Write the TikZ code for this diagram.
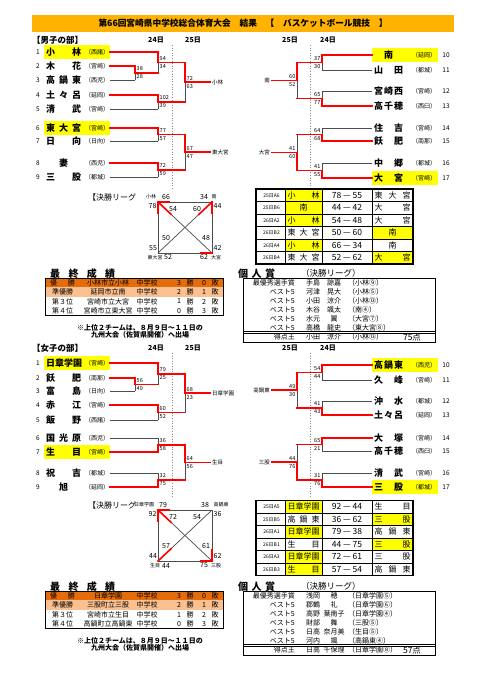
\documentclass[tikz,border=0pt]{standalone}
\usepackage{fontspec}
\setmainfont{Noto Sans CJK JP}
\usetikzlibrary{calc}
\definecolor{aka}{HTML}{FF0000}
\definecolor{kiiro}{HTML}{FFFF00}
\definecolor{obi}{HTML}{FFB300}
\definecolor{yusho}{HTML}{E46C0A}
\definecolor{junyu}{HTML}{FAC090}
\newcommand{\haba}[2]{\makebox[#1][s]{#2}}
% team rows of the brackets
\newcommand{\teamL}[5]{%
  \node[num] (n#1) at (38,#2) {#3};
  \node[tname, anchor=west] (t#1) at (46,#2) {\haba{35pt}{#4}};
  \node[area] (r#1) at (97,#2) {（#5）};
  \coordinate (s#1) at (110,#2);}
\newcommand{\teamR}[5]{%
  \coordinate (s#1) at (372,#2);
  \node[tname, anchor=west] (t#1) at (374,#2) {\haba{29pt}{#4}};
  \node[area] (r#1) at (424,#2) {（#5）};
  \node[num] (n#1) at (446,#2) {#3};}
\newcommand{\hl}[2]{\fill[kiiro] (#1,{#2-7}) rectangle ++(66,14);}
% one game: top in, bottom in, x, name, top style, bottom style, winner (t/b), scores
\newcommand{\duel}[9]{%
  \coordinate (#4m) at ($(#1)!0.5!(#2)$);
  \coordinate (#4) at (#3,0 |- #4m);
  \coordinate (#4u) at (#3,0 |- #1);
  \coordinate (#4d) at (#3,0 |- #2);
  \draw[#5] (#1) -- (#4u);
  \draw[#6] (#2) -- (#4d);
  \if#7t\draw[lose] (#4) -- (#4d);\draw[win] (#4u) -- (#4);%
  \else\draw[lose] (#4) -- (#4u);\draw[win] (#4d) -- (#4);\fi
  \node[score, anchor=\scanchor] (#4a) at ([xshift=\scdx pt, yshift=4pt]#4) {#8};
  \node[score, anchor=\scanchor] (#4b) at ([xshift=\scdx pt, yshift=-4pt]#4) {#9};}
% league table
\newcommand{\gamerow}[7]{%
  \if#7l\fill[kiiro] (285,{#2-6.25}) rectangle (322,{#2+6.25});%
  \else\fill[kiiro] (372,{#2-6.25}) rectangle (413,{#2+6.25});\fi
  \node[code] (#1c) at (271.5,#2) {#3};
  \node[cell] (#1a) at (303.5,#2) {#4};
  \node[pts] (#1s) at (347,#2) {#5};
  \node[cell] (#1b) at (392.5,#2) {#6};}
\newcommand{\gamegrid}[1]{%
  \foreach \k in {1,...,5} \draw[line width=0.4pt] (256,{#1+12.5*\k}) -- (413,{#1+12.5*\k});
  \foreach \xx in {285,322,372} \draw[line width=0.4pt] (\xx,#1) -- (\xx,{#1+75});
  \draw[line width=1.2pt] (256,#1) rectangle (413,{#1+75});}
\newcommand{\rankrow}[6]{%
  \node[rk] (#1r) at (62.5,#2) {#3};
  \node[rk] (#1s) at (108,#2) {#4};
  \node[rk] (#1c) at (147,#2) {中学校};
  \node[rk] (#1w) at (179,#2) {#5};
  \node[rk] (#1x) at (190,#2) {勝};
  \node[rk] (#1l) at (204,#2) {#6};
  \node[rk] (#1y) at (215,#2) {敗};}
\newcommand{\awardrow}[6]{%
  \node[rk, anchor=east] (#1t) at (295,#2) {#3};
  \node[rk] (#1f) at (313,#2) {#4};
  \node[rk] (#1g) at (334,#2) {#5};
  \node[rk, anchor=west] (#1h) at (348,#2) {（#6）};}

\begin{document}
\begin{tikzpicture}[x=1pt, y=-1pt,
    win/.style={draw=aka, line width=1.6pt, line cap=rect},
    lose/.style={draw=black!70, line width=0.7pt},
    dotline/.style={draw=black!45, dotted, line width=0.6pt},
    num/.style={font=\fontsize{6.5}{7}\selectfont, inner sep=0pt},
    tname/.style={font=\fontsize{9}{10}\selectfont\bfseries, inner sep=0pt},
    area/.style={font=\fontsize{6}{6}\selectfont, inner sep=0pt},
    score/.style={font=\fontsize{5.5}{6}\selectfont, inner sep=0pt},
    champ/.style={font=\fontsize{5.5}{6}\selectfont, inner sep=0pt},
    head/.style={font=\fontsize{8.5}{9}\selectfont\bfseries, inner sep=0pt},
    day/.style={font=\fontsize{7}{7}\selectfont\bfseries, inner sep=0pt},
    rrhead/.style={font=\fontsize{8}{8}\selectfont, inner sep=0pt},
    rrname/.style={font=\fontsize{5}{5}\selectfont, inner sep=0pt},
    rrsc/.style={font=\fontsize{7}{7}\selectfont, inner sep=0pt},
    code/.style={font=\fontsize{5}{5}\selectfont, inner sep=0pt},
    cell/.style={font=\fontsize{8}{8}\selectfont, inner sep=0pt},
    pts/.style={font=\fontsize{8.5}{9}\selectfont, inner sep=0pt},
    rk/.style={font=\fontsize{7}{7}\selectfont, inner sep=0pt},
    note/.style={font=\fontsize{7}{7}\selectfont\bfseries, inner sep=0pt},
    big/.style={font=\fontsize{10}{10}\selectfont\bfseries, inner sep=0pt}
  ]
  \fill[white] (0,0) rectangle (481,680);
  \useasboundingbox (0,0) rectangle (481,680);

  % title
  \fill[obi] (32,15) rectangle (454,32);
  \node[font=\fontsize{8.7}{9}\selectfont\bfseries, inner sep=0pt] (ttl) at (243,23.5)
    {第66回宮崎県中学校総合体育大会　結果　【　バスケットボール競技　】};

  %%%%%%%%%%%%%%%% boys
  \node[head, anchor=west] (hb) at (32,40) {【男子の部】};
  \node[day] (db1) at (156,40) {24日};
  \node[day] (db2) at (193,40) {25日};
  \node[day] (db3) at (290,40) {25日};
  \node[day] (db4) at (328,40) {24日};
  \draw[dotline] (172,45) -- (172,190);
  \draw[dotline] (310,45) -- (310,190);

  \hl{44}{52} \hl{44}{128} \hl{372}{55} \hl{372}{178}
  \teamL{b1}{52}{1}{小\hfill 林}{西諸}
  \teamL{b2}{66}{2}{木\hfill 花}{宮崎}
  \teamL{b3}{80}{3}{高\hfill 鍋\hfill 東}{西児}
  \teamL{b4}{95}{4}{土\hfill 々\hfill 呂}{延岡}
  \teamL{b5}{109}{5}{清\hfill 武}{宮崎}
  \teamL{b6}{128}{6}{東\hfill 大\hfill 宮}{宮崎}
  \teamL{b7}{141}{7}{日\hfill 向}{日向}
  \teamL{b8}{163}{8}{\hfill 妻\hfill}{西児}
  \teamL{b9}{177}{9}{三\hfill 股}{都城}
  \teamR{b10}{55}{10}{\hfill 南\hfill}{延岡}
  \teamR{b11}{70}{11}{山\hfill 田}{都城}
  \teamR{b12}{91}{12}{宮\hfill 崎\hfill 西}{宮崎}
  \teamR{b13}{106}{13}{高\hfill 千\hfill 穂}{西臼}
  \teamR{b14}{128}{14}{住\hfill 吉}{宮崎}
  \teamR{b15}{141}{15}{飫\hfill 肥}{南那}
  \teamR{b16}{163}{16}{中\hfill 郷}{都城}
  \teamR{b17}{178}{17}{大\hfill 宮}{宮崎}

  \def\scanchor{west}\def\scdx{1.5}
  \duel{sb2}{sb3}{135}{bA}{win}{lose}{t}{38}{28}
  \duel{sb1}{bA}{158}{bB}{win}{win}{t}{94}{34}
  \duel{sb4}{sb5}{158}{bC}{win}{lose}{t}{102}{39}
  \duel{bB}{bC}{185}{bD}{win}{win}{t}{72}{63}
  \duel{sb6}{sb7}{158}{bE}{win}{lose}{t}{77}{57}
  \duel{sb8}{sb9}{158}{bF}{win}{lose}{t}{72}{59}
  \duel{bE}{bF}{185}{bG}{win}{win}{t}{67}{47}
  \draw[win] (bD) -- (210,0 |- bD) coordinate (bDo);
  \node[champ, anchor=west] (wb1) at ([xshift=2pt]bDo) {小林};
  \draw[win] (bG) -- (210,0 |- bG) coordinate (bGo);
  \node[champ, anchor=west] (wb2) at ([xshift=2pt]bGo) {東大宮};

  \def\scanchor{east}\def\scdx{-1.5}
  \duel{sb10}{sb11}{322}{bH}{win}{lose}{t}{37}{30}
  \duel{sb12}{sb13}{322}{bI}{lose}{win}{b}{65}{77}
  \duel{bH}{bI}{297}{bJ}{win}{win}{t}{60}{52}
  \duel{sb14}{sb15}{322}{bK}{lose}{win}{b}{64}{68}
  \duel{sb16}{sb17}{322}{bL}{lose}{win}{b}{41}{55}
  \duel{bK}{bL}{297}{bM}{win}{win}{b}{41}{60}
  \draw[win] (bJ) -- (272,0 |- bJ) coordinate (bJo);
  \node[champ, anchor=east] (wb3) at ([xshift=-2pt]bJo) {南};
  \draw[win] (bM) -- (272,0 |- bM) coordinate (bMo);
  \node[champ, anchor=east] (wb4) at ([xshift=-2pt]bMo) {大宮};

  % boys league
  \node[rrhead, anchor=west] (lgb) at (88,197) {【決勝リーグ};
  \coordinate (bq1) at (158,202); \coordinate (bq2) at (212,202);
  \coordinate (bq3) at (158,253); \coordinate (bq4) at (212,253);
  \draw[lose] (bq1) -- (bq2) -- (bq4) -- (bq3) -- cycle;
  \draw[lose] (bq1) -- (bq4);
  \draw[lose] (bq2) -- (bq3);
  \draw[win] (bq1) -- ($(bq1)!11pt!(bq3)$);
  \draw[win] (bq1) -- ($(bq1)!11pt!(bq2)$);
  \draw[win] (bq1) -- ($(bq1)!18pt!(bq4)$);
  \draw[win] (bq2) -- ($(bq2)!11pt!(bq4)$);
  \draw[win] (bq2) -- ($(bq2)!18pt!(bq3)$);
  \draw[win] (bq4) -- ($(bq4)!11pt!(bq3)$);
  \node[rrname] (bqn1) at (151,197) {小林};
  \node[rrname] (bqn2) at (214,197) {南};
  \node[rrname] (bqn3) at (155,257.5) {東大宮};
  \node[rrname] (bqn4) at (216,257.5) {大宮};
  \node[rrsc] (bqa) at (166,197) {66};
  \node[rrsc] (bqb) at (204,197) {34};
  \node[rrsc] (bqc) at (152.5,206) {78};
  \node[rrsc] (bqd) at (217.5,206) {44};
  \node[rrsc] (bqe) at (173,209) {54};
  \node[rrsc] (bqf) at (197,209) {60};
  \node[rrsc] (bqg) at (166,238) {50};
  \node[rrsc] (bqh) at (206,238) {48};
  \node[rrsc] (bqi) at (153,248) {55};
  \node[rrsc] (bqj) at (217.5,248) {42};
  \node[rrsc] (bqk) at (168,257.5) {52};
  \node[rrsc] (bql) at (204,257.5) {62};

  % boys table
  \gamerow{gb1}{195.25}{25日A6}{\haba{32pt}{小\hfill 林}}{78 — 55}{\haba{36pt}{東\hfill 大\hfill 宮}}{l}
  \gamerow{gb2}{207.75}{25日B6}{南}{44 — 42}{\haba{36pt}{大\hfill 宮}}{l}
  \gamerow{gb3}{220.25}{26日A2}{\haba{32pt}{小\hfill 林}}{54 — 48}{\haba{36pt}{大\hfill 宮}}{l}
  \gamerow{gb4}{232.75}{26日B2}{\haba{32pt}{東\hfill 大\hfill 宮}}{50 — 60}{南}{r}
  \gamerow{gb5}{245.25}{26日A4}{\haba{32pt}{小\hfill 林}}{66 — 34}{南}{l}
  \gamerow{gb6}{257.75}{26日B4}{\haba{32pt}{東\hfill 大\hfill 宮}}{52 — 62}{\haba{36pt}{大\hfill 宮}}{r}
  \gamegrid{189}

  % boys standings
  \node[big, anchor=west] (fb) at (50,274) {\haba{65pt}{最\hfill 終\hfill 成\hfill 績}};
  \fill[yusho] (45,278) rectangle (223,287.4);
  \fill[junyu] (45,287.4) rectangle (223,296.8);
  \rankrow{rb1}{282.7}{\haba{25pt}{優\hfill 勝}}{小林市立小林}{3}{0}
  \rankrow{rb2}{292.1}{準優勝}{延岡市立南}{2}{1}
  \rankrow{rb3}{301.5}{第３位}{宮崎市立大宮}{1}{2}
  \rankrow{rb4}{310.9}{第４位}{宮崎市立東大宮}{0}{3}
  \draw[line width=1pt] (45,278) rectangle (223,315.6);
  \node[note] (nb1) at (140,327.5) {※上位２チームは、８月９日～１１日の};
  \node[note] (nb2) at (140,334.5) {九州大会（佐賀県開催）へ出場};

  % boys awards
  \node[big, anchor=west] (kb) at (238,274) {\haba{37pt}{個\hfill 人\hfill 賞}};
  \node[font=\fontsize{8.5}{9}\selectfont, inner sep=0pt, anchor=west] (kb2) at (301,273) {（決勝リーグ）};
  \awardrow{ab1}{283}{最優秀選手賞}{手島}{諒嘉}{小林⑨}
  \awardrow{ab2}{292}{ベスト5}{河津}{晃大}{小林⑤}
  \awardrow{ab3}{301}{ベスト5}{小田}{涼介}{小林⑬}
  \awardrow{ab4}{310}{ベスト5}{木谷}{颯太}{南④}
  \awardrow{ab5}{319}{ベスト5}{水元}{翼}{大宮⑦}
  \awardrow{ab6}{328}{ベスト5}{高橋}{龍史}{東大宮⑧}
  \awardrow{ab7}{337}{得点王}{小田}{涼介}{小林⑬}
  \node[pts] (ab7p) at (412,337) {75点};
  \draw[line width=0.9pt] (243,278) rectangle (435,342);
  \draw[line width=0.5pt] (243,331.5) -- (435,331.5) (243,333.5) -- (435,333.5);

  %%%%%%%%%%%%%%%% girls
  \node[head, anchor=west] (hg) at (32,348) {【女子の部】};
  \node[day] (dg1) at (156,348) {24日};
  \node[day] (dg2) at (193,348) {25日};
  \node[day] (dg3) at (290,348) {25日};
  \node[day] (dg4) at (328,348) {24日};
  \draw[dotline] (172,353) -- (172,498);
  \draw[dotline] (310,353) -- (310,498);

  \hl{44}{363} \hl{44}{452} \hl{372}{365} \hl{372}{487}
  \teamL{g1}{363}{1}{日\hfill 章\hfill 学\hfill 園}{宮崎}
  \teamL{g2}{378}{2}{飫\hfill 肥}{南那}
  \teamL{g3}{391}{3}{富\hfill 島}{日向}
  \teamL{g4}{405}{4}{赤\hfill 江}{宮崎}
  \teamL{g5}{420}{5}{飯\hfill 野}{西諸}
  \teamL{g6}{438}{6}{国\hfill 光\hfill 原}{西児}
  \teamL{g7}{452}{7}{生\hfill 目}{宮崎}
  \teamL{g8}{473}{8}{祝\hfill 吉}{都城}
  \teamL{g9}{487}{9}{\hfill 旭\hfill}{延岡}
  \teamR{g10}{365}{10}{高\hfill 鍋\hfill 東}{西児}
  \teamR{g11}{380}{11}{久\hfill 峰}{宮崎}
  \teamR{g12}{401}{12}{沖\hfill 水}{都城}
  \teamR{g13}{415}{13}{土\hfill 々\hfill 呂}{延岡}
  \teamR{g14}{438}{14}{大\hfill 塚}{宮崎}
  \teamR{g15}{451}{15}{高\hfill 千\hfill 穂}{西臼}
  \teamR{g16}{473}{16}{清\hfill 武}{宮崎}
  \teamR{g17}{487}{17}{三\hfill 股}{都城}

  \def\scanchor{west}\def\scdx{1.5}
  \duel{sg2}{sg3}{135}{gA}{win}{lose}{t}{56}{49}
  \duel{sg1}{gA}{158}{gB}{win}{win}{t}{79}{25}
  \duel{sg4}{sg5}{158}{gC}{win}{lose}{t}{60}{52}
  \duel{gB}{gC}{185}{gD}{win}{win}{t}{68}{23}
  \duel{sg6}{sg7}{158}{gE}{lose}{win}{b}{36}{58}
  \duel{sg8}{sg9}{158}{gF}{lose}{win}{b}{32}{75}
  \duel{gE}{gF}{185}{gG}{win}{win}{t}{64}{56}
  \draw[win] (gD) -- (210,0 |- gD) coordinate (gDo);
  \node[champ, anchor=west] (wg1) at ([xshift=2pt]gDo) {日章学園};
  \draw[win] (gG) -- (210,0 |- gG) coordinate (gGo);
  \node[champ, anchor=west] (wg2) at ([xshift=2pt]gGo) {生目};

  \def\scanchor{east}\def\scdx{-1.5}
  \duel{sg10}{sg11}{322}{gH}{win}{lose}{t}{54}{44}
  \duel{sg12}{sg13}{322}{gI}{lose}{win}{b}{41}{43}
  \duel{gH}{gI}{297}{gJ}{win}{win}{t}{49}{30}
  \duel{sg14}{sg15}{322}{gK}{win}{lose}{t}{65}{21}
  \duel{sg16}{sg17}{322}{gL}{lose}{win}{b}{31}{76}
  \duel{gK}{gL}{297}{gM}{win}{win}{b}{44}{76}
  \draw[win] (gJ) -- (272,0 |- gJ) coordinate (gJo);
  \node[champ, anchor=east] (wg3) at ([xshift=-2pt]gJo) {高鍋東};
  \draw[win] (gM) -- (272,0 |- gM) coordinate (gMo);
  \node[champ, anchor=east] (wg4) at ([xshift=-2pt]gMo) {三股};

  % girls league
  \node[rrhead, anchor=west] (lgg) at (88,505) {【決勝リーグ};
  \coordinate (gq1) at (158,510); \coordinate (gq2) at (212,510);
  \coordinate (gq3) at (158,561); \coordinate (gq4) at (212,561);
  \draw[lose] (gq1) -- (gq2) -- (gq4) -- (gq3) -- cycle;
  \draw[lose] (gq1) -- (gq4);
  \draw[lose] (gq2) -- (gq3);
  \draw[win] (gq1) -- ($(gq1)!11pt!(gq3)$);
  \draw[win] (gq1) -- ($(gq1)!11pt!(gq2)$);
  \draw[win] (gq1) -- ($(gq1)!18pt!(gq4)$);
  \draw[win] (gq3) -- ($(gq3)!18pt!(gq2)$);
  \draw[win] (gq4) -- ($(gq4)!11pt!(gq2)$);
  \draw[win] (gq4) -- ($(gq4)!11pt!(gq3)$);
  \node[rrname] (gqn1) at (144,505) {日章学園};
  \node[rrname] (gqn2) at (221,505) {高鍋東};
  \node[rrname] (gqn3) at (155,565.5) {生目};
  \node[rrname] (gqn4) at (216,565.5) {三股};
  \node[rrsc] (gqa) at (163,505) {79};
  \node[rrsc] (gqb) at (205,505) {38};
  \node[rrsc] (gqc) at (152.5,514) {92};
  \node[rrsc] (gqd) at (217.5,514) {36};
  \node[rrsc] (gqe) at (173,517) {72};
  \node[rrsc] (gqf) at (197,517) {54};
  \node[rrsc] (gqg) at (166,546) {57};
  \node[rrsc] (gqh) at (206,546) {61};
  \node[rrsc] (gqi) at (153,556) {44};
  \node[rrsc] (gqj) at (217.5,556) {62};
  \node[rrsc] (gqk) at (166,565.5) {44};
  \node[rrsc] (gql) at (204,565.5) {75};

  % girls table
  \gamerow{gg1}{506.75}{25日A5}{\haba{32pt}{日\hfill 章\hfill 学\hfill 園}}{92 — 44}{\haba{36pt}{生\hfill 目}}{l}
  \gamerow{gg2}{519.25}{25日B5}{\haba{32pt}{高\hfill 鍋\hfill 東}}{36 — 62}{\haba{36pt}{三\hfill 股}}{r}
  \gamerow{gg3}{531.75}{26日A1}{\haba{32pt}{日\hfill 章\hfill 学\hfill 園}}{79 — 38}{\haba{36pt}{高\hfill 鍋\hfill 東}}{l}
  \gamerow{gg4}{544.25}{26日B1}{\haba{32pt}{生\hfill 目}}{44 — 75}{\haba{36pt}{三\hfill 股}}{r}
  \gamerow{gg5}{556.75}{26日A3}{\haba{32pt}{日\hfill 章\hfill 学\hfill 園}}{72 — 61}{\haba{36pt}{三\hfill 股}}{l}
  \gamerow{gg6}{569.25}{26日B3}{\haba{32pt}{生\hfill 目}}{57 — 54}{\haba{36pt}{高\hfill 鍋\hfill 東}}{l}
  \gamegrid{500.5}

  % girls standings
  \node[big, anchor=west] (fg) at (50,587) {\haba{65pt}{最\hfill 終\hfill 成\hfill 績}};
  \fill[yusho] (45,591) rectangle (223,600.4);
  \fill[junyu] (45,600.4) rectangle (223,609.8);
  \rankrow{rg1}{595.7}{\haba{25pt}{優\hfill 勝}}{日章学園}{3}{0}
  \rankrow{rg2}{605.1}{準優勝}{三股町立三股}{2}{1}
  \rankrow{rg3}{614.5}{第３位}{宮崎市立生目}{1}{2}
  \rankrow{rg4}{623.9}{第４位}{高鍋町立高鍋東}{0}{3}
  \draw[line width=1pt] (45,591) rectangle (223,628.6);
  \node[note] (ng1) at (140,640.5) {※上位２チームは、８月９日～１１日の};
  \node[note] (ng2) at (140,647.5) {九州大会（佐賀県開催）へ出場};

  % girls awards
  \node[big, anchor=west] (kg) at (238,587) {\haba{37pt}{個\hfill 人\hfill 賞}};
  \node[font=\fontsize{8.5}{9}\selectfont, inner sep=0pt, anchor=west] (kg2) at (301,586) {（決勝リーグ）};
  \awardrow{ag1}{596}{最優秀選手賞}{浅岡}{穂}{日章学園⑤}
  \awardrow{ag2}{605}{ベスト5}{郡鶴}{礼}{日章学園⑥}
  \awardrow{ag3}{614}{ベスト5}{高野}{葉南子}{日章学園④}
  \awardrow{ag4}{623}{ベスト5}{財部}{舞}{三股⑤}
  \awardrow{ag5}{632}{ベスト5}{日高}{奈月美}{生目⑤}
  \awardrow{ag6}{641}{ベスト5}{河内}{颯}{高鍋東④}
  \awardrow{ag7}{650}{得点王}{日高}{千保理}{日章学園⑧}
  \node[pts] (ag7p) at (412,650) {57点};
  \draw[line width=0.9pt] (243,591) rectangle (435,655);
  \draw[line width=0.5pt] (243,644.5) -- (435,644.5) (243,646.5) -- (435,646.5);
\end{tikzpicture}
\end{document}
